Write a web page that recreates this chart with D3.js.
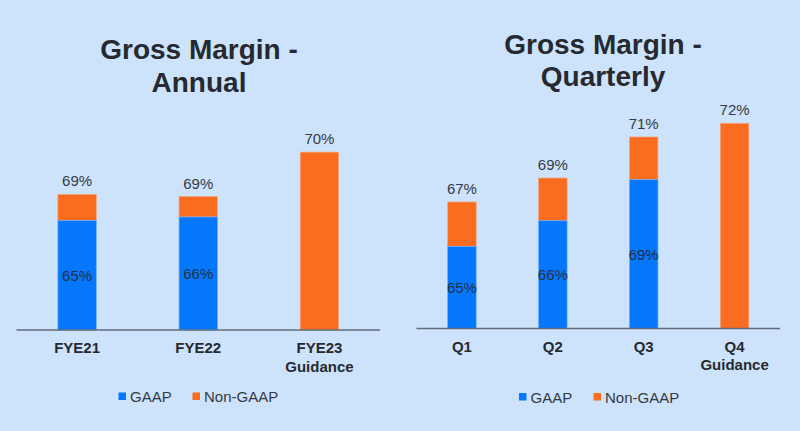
<!DOCTYPE html>
<html><head><meta charset="utf-8">
<script src="https://cdn.jsdelivr.net/npm/d3@7"></script>
<style>
html,body{margin:0;padding:0;background:#cde3fb;}
svg{display:block;font-family:"Liberation Sans",Arial,sans-serif;}
</style></head>
<body>
<svg id="c" width="800" height="431"></svg>
<script>
// ----- Annual panel data -----
const annualCategories = [["FYE21"], ["FYE22"], ["FYE23", "Guidance"]];
const annualGaapBar = [65.0, 65.5, null];          // bar height (pseudo-% on truncated axis)
const annualTotalBar = [68.6, 68.3, 74.4];          // top of stacked bar
const annualGaapLabels = ["65%", "66%", null];
const annualTotalLabels = ["69%", "69%", "70%"];

// ----- Quarterly panel data -----
const quarterCategories = [["Q1"], ["Q2"], ["Q3"], ["Q4", "Guidance"]];
const quarterGaapBar = [64.8, 66.3, 68.7, null];
const quarterTotalBar = [67.4, 68.8, 71.2, 72.0];
const quarterGaapLabels = ["65%", "66%", "69%", null];
const quarterTotalLabels = ["67%", "69%", "71%", "72%"];

const seriesNames = ["GAAP", "Non-GAAP"];
const seriesColors = ["#0477fd", "#fa6c1f"];

const svg = d3.select("#c");
svg.append("rect").attr("width", 800).attr("height", 431).attr("fill", "#cde3fb");

function panel(opt) {
  const g = svg.append("g");
  // title
  const t = g.append("text").attr("text-anchor", "middle")
    .attr("font-weight", "bold").attr("font-size", 28).attr("fill", "#262a30");
  opt.title.forEach((line, i) => {
    t.append("tspan").attr("x", opt.titleX).attr("y", opt.titleY + i * 32.5).text(line);
  });

  const x = d3.scaleBand().domain(opt.cats.map((c, i) => i))
    .range([opt.x0, opt.x1]).paddingInner(opt.pad).paddingOuter(opt.pad / 2);
  const y = d3.scaleLinear().domain(opt.yDomain).range([opt.base, opt.base - opt.pxRange]);

  opt.cats.forEach((c, i) => {
    const gv = opt.gaap[i], tv = opt.total[i];
    const bx = x(i), bw = x.bandwidth();
    if (gv != null) {
      g.append("rect").attr("x", bx).attr("y", y(tv)).attr("width", bw)
        .attr("height", y(gv) - y(tv)).attr("fill", seriesColors[1])
        .attr("stroke", "#f7a57a").attr("stroke-width", 0.7);
      g.append("rect").attr("x", bx).attr("y", y(gv)).attr("width", bw)
        .attr("height", y(opt.yDomain[0]) - y(gv)).attr("fill", seriesColors[0])
        .attr("stroke", "#6aaeff").attr("stroke-width", 0.7);
      g.append("text").attr("x", bx + bw / 2).attr("y", (y(gv) + y(opt.yDomain[0])) / 2 + 5.5)
        .attr("text-anchor", "middle").attr("font-size", 15).attr("fill", "#24303f")
        .text(opt.gaapLabels[i]);
    } else {
      g.append("rect").attr("x", bx).attr("y", y(tv)).attr("width", bw)
        .attr("height", y(opt.yDomain[0]) - y(tv)).attr("fill", seriesColors[1])
        .attr("stroke", "#f7a57a").attr("stroke-width", 0.7);
    }
    g.append("text").attr("x", bx + bw / 2).attr("y", y(tv) - 8)
      .attr("text-anchor", "middle").attr("font-size", 15).attr("fill", "#333a44")
      .text(opt.totalLabels[i]);
  });

  // axis
  const axis = d3.axisBottom(x).tickSize(0).tickFormat("");
  const ag = g.append("g").attr("transform", `translate(0,${opt.base})`).call(axis);
  ag.select(".domain").attr("stroke", "#5f6b7a").attr("stroke-width", 1.5)
    .attr("d", `M${opt.x0},0H${opt.x1}`);
  ag.selectAll(".tick").each(function (d) {
    const tt = d3.select(this).append("text").attr("text-anchor", "middle")
      .attr("font-weight", "bold").attr("font-size", 15).attr("fill", "#262a30");
    opt.cats[d].forEach((line, k) => {
      tt.append("tspan").attr("x", 0).attr("y", 23 + k * 18.5).text(line);
    });
  });

  // legend
  const lg = g.append("g").attr("transform", `translate(0,${opt.legY})`);
  seriesNames.forEach((n, i) => {
    const lx = opt.legX[i];
    lg.append("rect").attr("x", lx).attr("y", -4).attr("width", 7.5).attr("height", 7.5)
      .attr("fill", seriesColors[i]);
    lg.append("text").attr("x", lx + 11.5).attr("y", 5.5).attr("font-size", 15)
      .attr("fill", "#333a44").text(n);
  });
}

panel({
  title: ["Gross Margin -", "Annual"], titleX: 199, titleY: 59,
  cats: annualCategories, gaap: annualGaapBar, total: annualTotalBar,
  gaapLabels: annualGaapLabels, totalLabels: annualTotalLabels,
  x0: 16.5, x1: 380, pad: 0.683, base: 330, yDomain: [50, 75], pxRange: 25 * 7.29,
  legY: 396.5, legX: [118.5, 192.5]
});
panel({
  title: ["Gross Margin -", "Quarterly"], titleX: 603, titleY: 53.5,
  cats: quarterCategories, gaap: quarterGaapBar, total: quarterTotalBar,
  gaapLabels: quarterGaapLabels, totalLabels: quarterTotalLabels,
  x0: 416.5, x1: 780, pad: 0.686, base: 328.5, yDomain: [60, 75], pxRange: 15 * 17.1,
  legY: 397, legX: [519, 593.5]
});
</script>
</body></html>
